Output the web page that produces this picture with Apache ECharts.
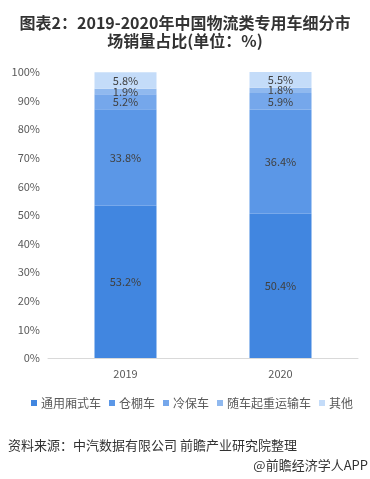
<!DOCTYPE html>
<html><head><meta charset="utf-8">
<script src="https://cdn.jsdelivr.net/npm/echarts@6/dist/echarts.min.js"></script>
<style>html,body{margin:0;padding:0;background:#fff}#c{width:370px;height:479px}</style>
</head><body><div id="c"></div>
<script>
const categories = ['2019', '2020'];
const seriesNames = ['通用厢式车', '仓棚车', '冷保车', '随车起重运输车', '其他'];
const vanData = [53.2, 50.4];
const shedData = [33.8, 36.4];
const coldData = [5.2, 5.9];
const craneData = [1.9, 1.8];
const otherData = [5.8, 5.5];
const yTicks = [0, 10, 20, 30, 40, 50, 60, 70, 80, 90, 100];

const colors = ['#4186E0', '#5B97E7', '#75A7EB', '#90B9EF', '#C4DCF9'];
const allData = [vanData, shedData, coldData, craneData, otherData];
const font = '"Noto Sans CJK SC", "Noto Sans", sans-serif';

const chart = echarts.init(document.getElementById('c'));
chart.setOption({
  animation: false,
  textStyle: { fontFamily: font },
  title: {
    text: '图表2：2019-2020年中国物流类专用车细分市\n场销量占比(单位：%)',
    left: 'center', top: 9,
    textStyle: { fontSize: 16, fontWeight: 'bold', color: '#333', lineHeight: 18, fontFamily: font }
  },
  legend: {
    data: seriesNames, top: 392, left: 26,
    itemWidth: 6, itemHeight: 6, itemGap: 8,
    icon: 'rect',
    textStyle: { fontSize: 12, color: '#595959', padding: [0, 0, 0, -1] }
  },
  grid: { left: 48, right: 12, top: 72, bottom: 121 },
  xAxis: {
    type: 'category', data: categories,
    axisLine: { lineStyle: { color: '#d9d9d9' } },
    axisTick: { show: false },
    axisLabel: { color: '#595959', fontSize: 11, margin: 10 }
  },
  yAxis: {
    type: 'value', min: 0, max: 100, interval: 10,
    axisLabel: { color: '#595959', fontSize: 11, formatter: v => yTicks.includes(v) ? v + '%' : '' },
    splitLine: { show: false },
    axisLine: { show: false }, axisTick: { show: false }
  },
  series: seriesNames.map((n, i) => ({
    name: n, type: 'bar', stack: 'total', data: allData[i],
    barWidth: 62,
    itemStyle: { color: colors[i] },
    label: { show: true, position: 'inside', formatter: '{c}%', color: '#404040', fontSize: 11 }
  })),
  graphic: [
    { type: 'text', left: 8, top: 439, style: { text: '资料来源：中汽数据有限公司 前瞻产业研究院整理', fontSize: 13, fill: '#333', fontFamily: font } },
    { type: 'text', right: 2, top: 459, style: { text: '@前瞻经济学人APP', fontSize: 13, fill: '#333', fontFamily: font } }
  ]
});
</script></body></html>
